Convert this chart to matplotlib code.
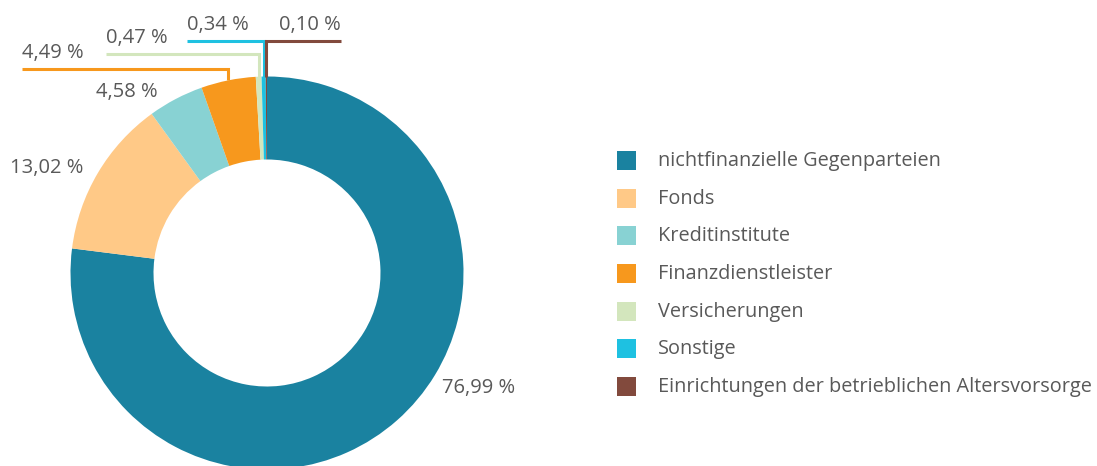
import numpy as np
import matplotlib
matplotlib.use("Agg")
import matplotlib.pyplot as plt
from matplotlib.patches import Rectangle

plt.rcParams['font.family'] = ['Open Sans', 'DejaVu Sans']

# data
categories = ["nichtfinanzielle Gegenparteien", "Fonds", "Kreditinstitute",
              "Finanzdienstleister", "Versicherungen", "Sonstige",
              "Einrichtungen der betrieblichen Altersvorsorge"]
shares = [76.99, 13.02, 4.58, 4.49, 0.47, 0.34, 0.10]
colors = ["#1A82A0", "#FFC987", "#88D2D3", "#F7981D", "#D3E6BD", "#1EC1E1", "#824A3D"]

text_col = "#595959"
W, H = 1097, 466

fig = plt.figure(figsize=(W / 100, H / 100), dpi=100)
ax = fig.add_axes([0, 0, 1, 1])

# work in pixel coords, y measured from top
cx, cy = 267, 273
r_out, r_in = 196.5, 113.5

wedges, _ = ax.pie(shares, colors=colors, startangle=90, counterclock=False,
                   center=(cx, H - cy), radius=r_out,
                   wedgeprops=dict(width=r_out - r_in, linewidth=0))
ax.set_xlim(0, W)
ax.set_ylim(0, H)
ax.set_aspect('auto')
ax.axis('off')

def lbl(v):
    return f"{v:.2f}".replace(".", ",") + " %"

fs = 14.5

# labels placed freely next to the ring (x, y from top, ha)
free_labels = {0: (442, 387.5, 'left'), 1: (83, 167.5, 'right'), 2: (158, 91.5, 'right')}
for i, (x, y, ha) in free_labels.items():
    ax.text(x, H - y, lbl(shares[i]), ha=ha, va='center', fontsize=fs, color=text_col)

# small slices with leader lines: (horizontal y, far x end of the line)
leaders = {3: (69, 22), 4: (54.3, 106), 5: (40.7, 187), 6: (40.7, 341)}
for i, (ly, xend) in leaders.items():
    w = wedges[i]
    mid = np.deg2rad((w.theta1 + w.theta2) / 2)
    px = cx + r_out * np.cos(mid)
    py = H - cy + r_out * np.sin(mid)
    ax.plot([px, px, xend], [py, H - ly, H - ly], color=colors[i], lw=2.2,
            solid_capstyle='butt', solid_joinstyle='miter')
    ha = 'left' if xend < px else 'right'
    ax.text(xend, H - ly + 6, lbl(shares[i]), ha=ha, va='bottom',
            fontsize=fs, color=text_col)

# legend
leg_y0, leg_dy = 160.7, 37.6
for k, (name, c) in enumerate(zip(categories, colors)):
    y = leg_y0 + k * leg_dy
    ax.add_patch(Rectangle((617, H - y - 9.5), 19, 19, facecolor=c, edgecolor='none'))
    ax.text(658, H - y - 0.5, name, ha='left', va='center', fontsize=14.3, color=text_col)

fig.savefig("out.png", dpi=100)
